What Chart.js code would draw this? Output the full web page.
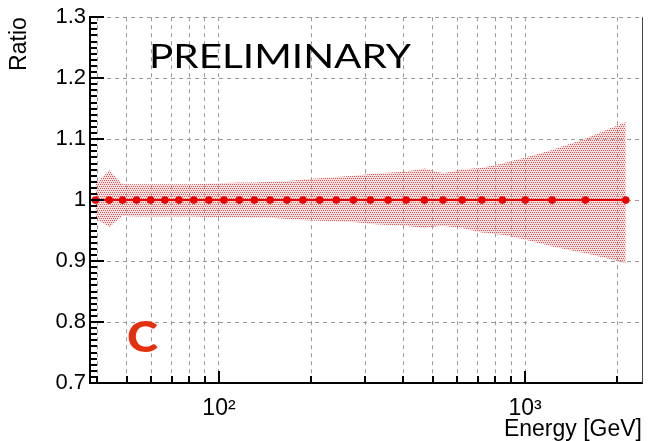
<!DOCTYPE html>
<html>
<head>
<meta charset="utf-8">
<script src="https://cdn.jsdelivr.net/npm/chart.js@4"></script>
<style>
  html, body { margin: 0; padding: 0; background: #fff; }
  #wrap { width: 648px; height: 441px; }
</style>
</head>
<body>
<div id="wrap"><canvas id="myChart" width="648" height="441"></canvas></div>
<script>
// values
var energy = [39.5, 43.8, 48.4, 53.8, 59.8, 66.6, 74.0, 82.7, 92.7, 103.8,
              116.5, 130.4, 146.8, 166.8, 188.1, 213.3, 241.6, 274.8, 312.3, 356.7,
              408.5, 468.7, 539.5, 622.5, 722, 843, 1002, 1225, 1574, 2133];
var ratio = [1, 1, 1, 1, 1, 1, 1, 1, 1, 1,
             1, 1, 1, 1, 1, 1, 1, 1, 1, 1,
             1, 1, 1, 1, 1, 1, 1, 1, 1, 1];
var bandUp = [1.027, 1.049, 1.026, 1.026, 1.026, 1.026, 1.026, 1.026, 1.027, 1.028,
              1.029, 1.029, 1.030, 1.031, 1.034, 1.036, 1.038, 1.040, 1.043, 1.045,
              1.047, 1.052, 1.044, 1.050, 1.053, 1.060, 1.070, 1.082, 1.101, 1.128];
var bandLow = [0.970, 0.956, 0.974, 0.973, 0.973, 0.973, 0.973, 0.973, 0.972, 0.972,
               0.972, 0.971, 0.971, 0.969, 0.967, 0.966, 0.965, 0.964, 0.961, 0.959,
               0.958, 0.954, 0.958, 0.954, 0.947, 0.943, 0.935, 0.924, 0.913, 0.897];
var xTicks = [40, 50, 60, 70, 80, 90, 100, 200, 300, 400, 500, 600, 700, 800, 900, 1000, 2000];
var xLabels = { 100: '10\u00b2', 1000: '10\u00b3' };
var yTicks = [0.7, 0.8, 0.9, 1.0, 1.1, 1.2, 1.3];

function toPoints(ys) {
    return energy.map(function(e, i) { return { x: e, y: ys[i] }; });
}

var canvas = document.getElementById('myChart');
var ctx = canvas.getContext('2d');

// dotted red fill like the ROOT hatch
var pc = document.createElement('canvas');
pc.width = 4; pc.height = 4;
var p = pc.getContext('2d');
p.fillStyle = 'rgba(240,175,175,0.4)';
p.fillRect(0, 0, 4, 4);
p.fillStyle = 'rgba(205,30,30,0.7)';
p.fillRect(0, 0, 1, 1); p.fillRect(2, 0, 1, 1);
p.fillRect(1, 2, 1, 1); p.fillRect(3, 2, 1, 1);
var bandFill = ctx.createPattern(pc, 'repeat');

// draw text stretched to a given width
function fitText(c, text, x, y, width) {
    var w = c.measureText(text).width;
    c.save();
    c.translate(x, y);
    c.scale(width / w, 1);
    c.fillText(text, 0, 0);
    c.restore();
}

// frame, inward ticks and the text labels
var decorations = {
    id: 'decorations',
    afterDraw: function(chart) {
        var c = chart.ctx, a = chart.chartArea;
        var xs = chart.scales.x, ys = chart.scales.y;
        c.save();
        c.strokeStyle = '#444';
        c.lineWidth = 1;
        c.beginPath();
        c.moveTo(a.right + 0.5, a.top);
        c.lineTo(a.right + 0.5, a.bottom);
        c.stroke();

        c.strokeStyle = '#000';
        c.lineWidth = 2;
        c.beginPath();
        for (var i = 70; i <= 130; i++) {
            var y = Math.round(ys.getPixelForValue(i / 100));
            var len = (i % 10 === 0) ? 14 : 7;
            c.moveTo(a.left, y);
            c.lineTo(a.left + len, y);
        }
        c.stroke();
        c.beginPath();
        xTicks.forEach(function(v) {
            var x = Math.round(xs.getPixelForValue(v));
            var len = (v === 100 || v === 1000) ? 12 : 7;
            c.moveTo(x, a.bottom);
            c.lineTo(x, a.bottom - len);
        });
        c.stroke();

        c.fillStyle = '#000';
        c.font = '32px Lato';
        c.textBaseline = 'alphabetic';
        fitText(c, 'PRELIMINARY', 149, 68, 262);

        c.fillStyle = '#e3300e';
        c.font = '900 42px Lato';
        fitText(c, 'C', 127, 352, 31);
        c.restore();
    }
};

var myChart = new Chart(ctx, {
    type: 'line',
    data: {
        datasets: [{
            label: 'Ratio',
            data: toPoints(ratio),
            borderColor: 'rgb(235,0,0)',
            backgroundColor: 'rgb(235,0,0)',
            borderWidth: 2,
            pointRadius: 3.8,
            pointBorderWidth: 0,
            fill: false
        },
        {
            label: 'Upper',
            data: toPoints(bandUp),
            borderWidth: 0,
            borderColor: 'rgba(0,0,0,0)',
            backgroundColor: bandFill,
            pointRadius: 0,
            fill: '+1'
        },
        {
            label: 'Lower',
            data: toPoints(bandLow),
            borderWidth: 0,
            borderColor: 'rgba(0,0,0,0)',
            pointRadius: 0,
            fill: false
        }]
    },
    options: {
        responsive: false,
        animation: false,
        devicePixelRatio: 1,
        layout: { padding: { top: 16, right: 6, left: 0, bottom: 0 } },
        plugins: {
            legend: { display: false },
            tooltip: { enabled: false }
        },
        scales: {
            x: {
                type: 'logarithmic',
                min: 37.9,
                max: 2410,
                afterBuildTicks: function(scale) {
                    scale.ticks = xTicks.map(function(v) { return { value: v }; });
                },
                afterFit: function(scale) { scale.height = 58; },
                grid: { color: '#999', lineWidth: 1, drawTicks: false },
                border: { display: true, color: '#000', width: 2, dash: [4, 4] },
                ticks: {
                    autoSkip: false,
                    maxRotation: 0,
                    padding: 12,
                    color: '#000',
                    font: { family: 'Liberation Sans', size: 23 },
                    callback: function(value) { return xLabels[value] || ''; }
                },
                title: {
                    display: true,
                    text: 'Energy [GeV]',
                    align: 'end',
                    color: '#000',
                    font: { family: 'Liberation Sans', size: 23 },
                    padding: { top: 0, bottom: -2 }
                }
            },
            y: {
                min: 0.7,
                max: 1.3,
                afterBuildTicks: function(scale) {
                    scale.ticks = yTicks.map(function(v) { return { value: v }; });
                },
                afterFit: function(scale) { scale.width = 90; },
                grid: { color: '#999', lineWidth: 1, drawTicks: false },
                border: { display: true, color: '#000', width: 2, dash: [4, 4] },
                ticks: {
                    padding: 4,
                    color: '#000',
                    font: { family: 'Liberation Sans', size: 22 },
                    callback: function(value) { return String(Number(value.toFixed(1))); }
                },
                title: {
                    display: true,
                    text: 'Ratio',
                    align: 'end',
                    color: '#000',
                    font: { family: 'Liberation Sans', size: 23 },
                    padding: { top: 6, bottom: 0 }
                }
            }
        }
    },
    plugins: [decorations]
});
</script>
</body>
</html>
